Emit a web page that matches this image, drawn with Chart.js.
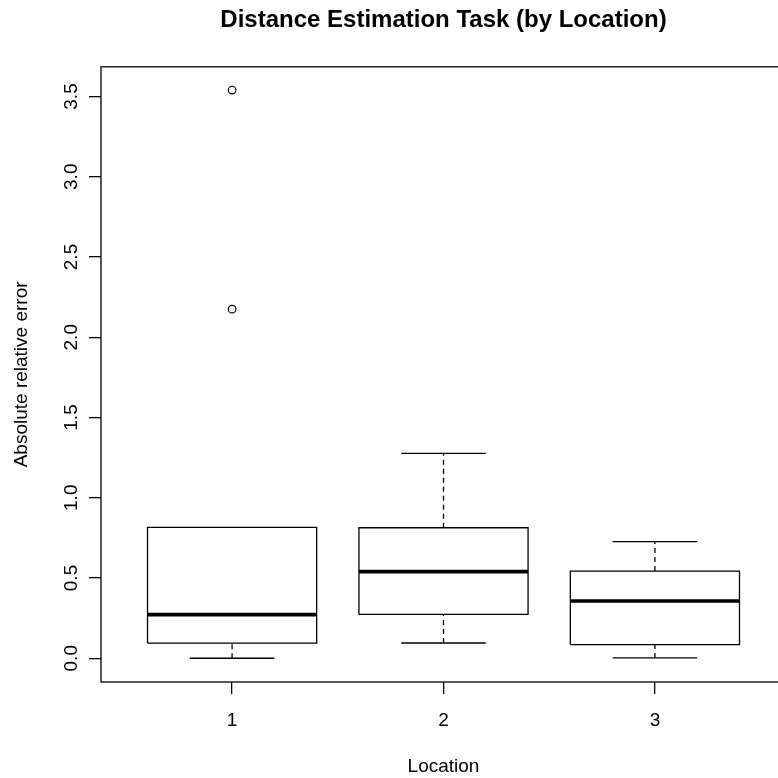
<!DOCTYPE html>
<html>
<head>
<meta charset="utf-8">
<script src="https://cdn.jsdelivr.net/npm/chart.js@4/dist/chart.umd.min.js"></script>
<style>
  html, body { margin: 0; padding: 0; background: #fff; overflow: hidden; }
  #wrap { width: 800px; height: 778px; }
</style>
</head>
<body>
<div id="wrap"><canvas id="chart" width="800" height="778"></canvas></div>
<script>
// data
const locations = [1, 2, 3]
const lowWhisker = [0.0, 0.095, 0.002]
const q1 = [0.094, 0.273, 0.085]
const medians = [0.272, 0.54, 0.357]
const q3 = [0.815, 0.813, 0.543]
const highWhisker = [0.815, 1.277, 0.726]
const outliers = [[2.175, 3.54], [], []]
const yTicks = [0, 0.5, 1, 1.5, 2, 2.5, 3, 3.5]

Chart.defaults.font.family = "'Liberation Sans', Arial, sans-serif"
Chart.defaults.color = "#000"

const LW = 1.3
const datasets = []

// white box body (floating bars)
datasets.push({
  type: "bar",
  data: locations.map((x, i) => ({ x: x, y: [q1[i], q3[i]] })),
  backgroundColor: "#fff",
  borderWidth: 0,
  barPercentage: 0.8,
  categoryPercentage: 1,
  order: 10,
})

function seg(points, width, dash, order) {
  return {
    type: "line",
    data: points,
    borderColor: "#000",
    borderWidth: width,
    borderDash: dash,
    pointRadius: 0,
    fill: false,
    tension: 0,
    order: order,
  }
}

locations.forEach((x, i) => {
  // whiskers (dashed)
  datasets.push(seg([{ x: x, y: lowWhisker[i] }, { x: x, y: q1[i] }], LW, [5, 4], 6))
  datasets.push(seg([{ x: x, y: q3[i] }, { x: x, y: highWhisker[i] }], LW, [5, 4], 6))
  // staples
  datasets.push(seg([{ x: x - 0.2, y: lowWhisker[i] }, { x: x + 0.2, y: lowWhisker[i] }], LW, [], 5))
  if (highWhisker[i] > q3[i]) {
    datasets.push(seg([{ x: x - 0.2, y: highWhisker[i] }, { x: x + 0.2, y: highWhisker[i] }], LW, [], 5))
  }
  // box outline
  datasets.push(seg([
    { x: x - 0.4, y: q1[i] }, { x: x + 0.4, y: q1[i] }, { x: x + 0.4, y: q3[i] },
    { x: x - 0.4, y: q3[i] }, { x: x - 0.4, y: q1[i] },
  ], LW, [], 3))
  // median
  datasets.push(seg([{ x: x - 0.4, y: medians[i] }, { x: x + 0.4, y: medians[i] }], 3.6, [], 1))
})

const outlierPoints = []
outliers.forEach((vals, i) => {
  vals.forEach((v) => outlierPoints.push({ x: locations[i], y: v }))
})
datasets.push({
  type: "scatter",
  data: outlierPoints,
  pointStyle: "circle",
  pointRadius: 3.8,
  pointBorderWidth: 1.2,
  pointBorderColor: "#000",
  pointBackgroundColor: "rgba(0,0,0,0)",
  showLine: false,
  order: 0,
})

// frame around plot + rotated y tick labels like R
const rStyle = {
  id: "rStyle",
  afterDraw(chart) {
    const ctx = chart.ctx
    const a = chart.chartArea
    const y = chart.scales.y
    ctx.save()
    ctx.strokeStyle = "#000"
    ctx.lineWidth = LW
    ctx.strokeRect(a.left, a.top, a.right - a.left, a.bottom - a.top)
    ctx.fillStyle = "#000"
    ctx.font = "19px 'Liberation Sans', Arial, sans-serif"
    ctx.textAlign = "center"
    ctx.textBaseline = "alphabetic"
    yTicks.forEach((v) => {
      ctx.save()
      ctx.translate(77, y.getPixelForValue(v))
      ctx.rotate(-Math.PI / 2)
      ctx.fillText(v.toFixed(1), 0, 0)
      ctx.restore()
    })
    ctx.restore()
  },
}

new Chart(document.getElementById("chart"), {
  type: "bar",
  data: { datasets: datasets },
  plugins: [rStyle],
  options: {
    responsive: false,
    animation: false,
    layout: { padding: { left: 0, right: 14, top: 0, bottom: 0 } },
    plugins: {
      legend: { display: false },
      tooltip: { enabled: false },
      title: {
        display: true,
        fullSize: false,
        text: "Distance Estimation Task (by Location)",
        font: { size: 24, weight: "bold" },
        color: "#000",
        padding: { top: 6, bottom: 32 },
      },
    },
    scales: {
      x: {
        type: "linear",
        min: 0.38,
        max: 3.62,
        offset: false,
        afterBuildTicks: (s) => { s.ticks = locations.map((v) => ({ value: v })) },
        afterFit: (s) => { s.height = 96 },
        ticks: {
          font: { size: 19 },
          color: "#000",
          padding: 15,
          callback: (v) => String(v),
        },
        grid: { offset: false, drawOnChartArea: false, drawTicks: true, tickLength: 12, color: "#000", lineWidth: LW },
        border: { display: false },
        title: { display: true, text: "Location", font: { size: 19 }, color: "#000", padding: { top: 0, bottom: 0 } },
      },
      y: {
        type: "linear",
        min: -0.148,
        max: 3.685,
        afterBuildTicks: (s) => { s.ticks = yTicks.map((v) => ({ value: v })) },
        afterFit: (s) => { s.width = 101 },
        ticks: { display: false },
        grid: { drawOnChartArea: false, drawTicks: true, tickLength: 12, color: "#000", lineWidth: LW },
        border: { display: false },
        title: { display: true, text: "Absolute relative error", font: { size: 19 }, color: "#000", padding: { top: 10, bottom: 0 } },
      },
    },
  },
})
</script>
</body>
</html>
